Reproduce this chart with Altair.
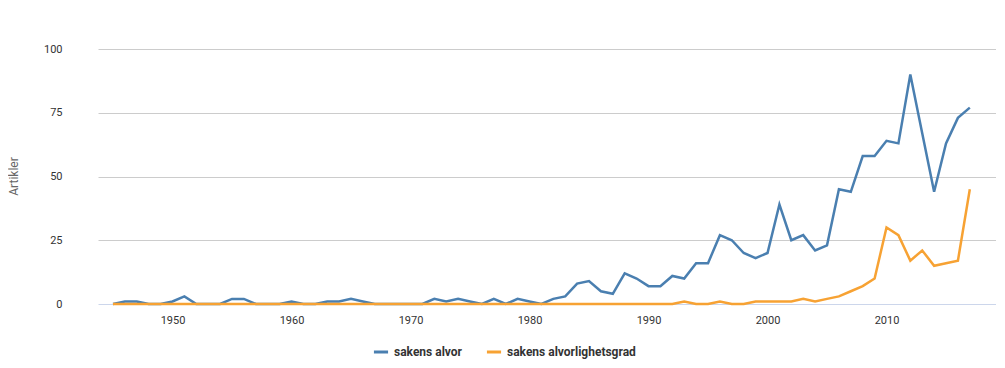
import altair as alt
import pandas as pd

years = list(range(1945, 2018))
alvor = [0, 1, 1, 0, 0, 1, 3, 0, 0, 0,
         2, 2, 0, 0, 0, 1, 0, 0, 1, 1,
         2, 1, 0, 0, 0, 0, 0, 2, 1, 2,
         1, 0, 2, 0, 2, 1, 0, 2, 3, 8,
         9, 5, 4, 12, 10, 7, 7, 11, 10, 16,
         16, 27, 25, 20, 18, 20, 39, 25, 27, 21,
         23, 45, 44, 58, 58, 64, 63, 90, 67, 44,
         63, 73, 77]
alvorlighetsgrad = [0] * 48 + [1, 0, 0, 1, 0, 0, 1, 1, 1, 1, 2, 1,
                               2, 3, 5, 7, 10, 30, 27, 17, 21, 15,
                               16, 17, 45]
series_names = ["sakens alvor", "sakens alvorlighetsgrad"]
colors = ["#4a7fb0", "#f7a233"]

rows = []
for y, a, b in zip(years, alvor, alvorlighetsgrad):
    rows.append({"year": y, "series": series_names[0], "value": a})
    rows.append({"year": y, "series": series_names[1], "value": b})
df = pd.DataFrame(rows)

chart = alt.Chart(df).mark_line(strokeWidth=2.5).encode(
    x=alt.X("year:Q", scale=alt.Scale(domain=[1943.74, 2019.2], nice=False, zero=False),
            axis=alt.Axis(title=None, values=list(range(1950, 2011, 10)), format="d",
                          grid=False, ticks=False, domainColor="#ccd6eb", domainWidth=1,
                          labelColor="#333333", labelFontSize=11, labelPadding=10,
                          labelFont="Roboto")),
    y=alt.Y("value:Q", scale=alt.Scale(domain=[0, 100], nice=False),
            axis=alt.Axis(title="Artikler", values=[0, 25, 50, 75, 100], domain=False, ticks=False,
                          gridColor=alt.condition("datum.value === 0", alt.value("transparent"), alt.value("#cccccc")),
                          labelColor="#333333", labelFontSize=11, labelPadding=36,
                          labelFont="Roboto", titleFont="Roboto", titleFontSize=12,
                          titleFontWeight="normal", titleColor="#666666",
                          titleX=-85, titleY=127, titleAngle=-90, titleBaseline="middle")),
    color=alt.Color("series:N", scale=alt.Scale(domain=series_names, range=colors),
                    legend=alt.Legend(title=None, orient="none", legendX=274, legendY=294,
                                      direction="horizontal", symbolType="stroke",
                                      symbolStrokeWidth=3, symbolSize=200,
                                      labelFont="Roboto", labelFontSize=12, labelFontWeight="bold",
                                      labelColor="#333333", columnPadding=18, symbolOffset=0)),
).properties(
    width=898, height=255,
    autosize=alt.AutoSizeParams(type="none"),
    padding={"left": 90, "top": 41, "right": 0, "bottom": 57},
).configure_view(stroke=None)

chart.save("out.html", embed_options={"renderer": "svg", "actions": False})
